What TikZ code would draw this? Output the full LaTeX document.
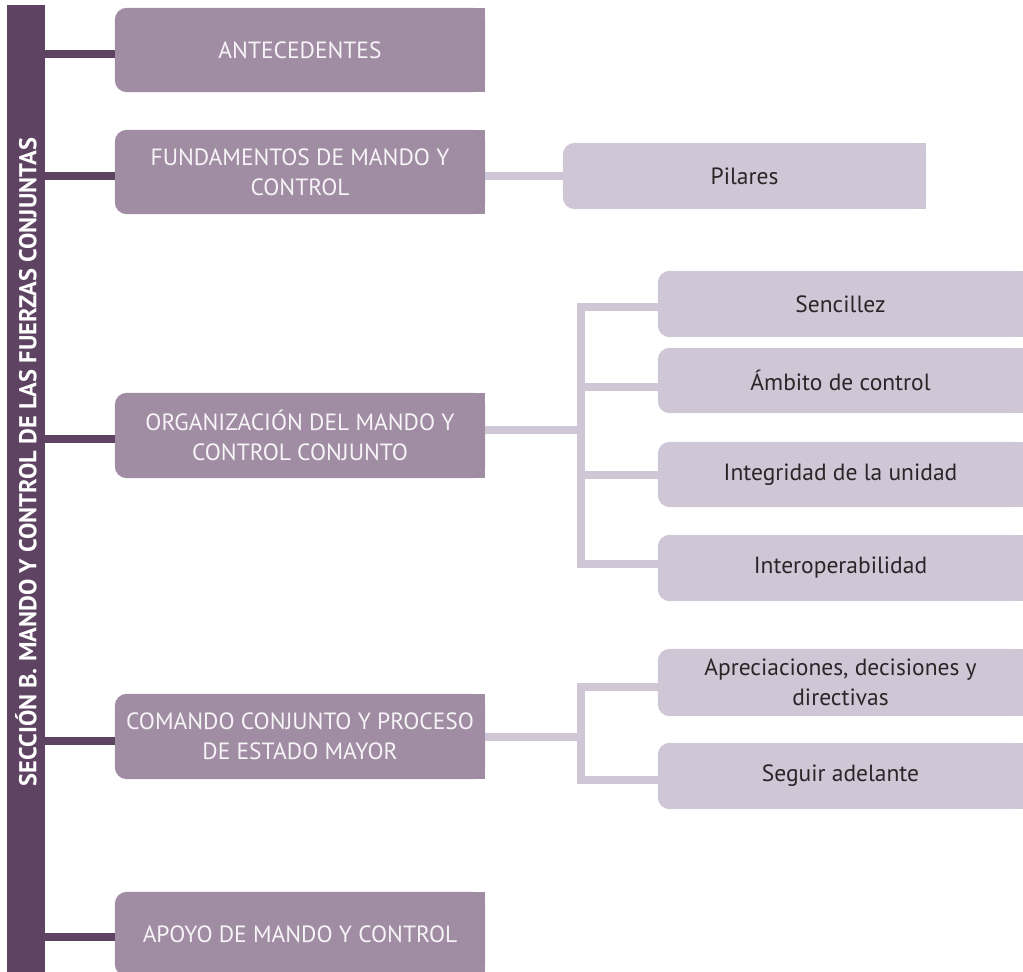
\documentclass[tikz,border=0pt]{standalone}
\usepackage{fontspec}
\setmainfont{PT Sans}
\usetikzlibrary{backgrounds,calc}
\definecolor{barc}{HTML}{5E4462}
\definecolor{mainc}{HTML}{A08DA3}
\definecolor{subc}{HTML}{CFC7D5}
\definecolor{maintext}{HTML}{F7F4F7}
\definecolor{subtext}{HTML}{2A2628}
\newcommand\boxbg[2]{\fill[#2,rounded corners=12pt] (#1.north west) rectangle (#1.south east); \fill[#2] (#1.north) rectangle (#1.south east);}
\begin{document}
\begin{tikzpicture}[x=1pt,y=-1pt,
  mainbox/.style={minimum width=370pt, minimum height=84pt, inner sep=0pt, align=center, text=maintext, font=\fontsize{23.5}{30}\selectfont},
  subbox/.style={minimum width=365pt, minimum height=66pt, inner sep=0pt, align=center, text=subtext, font=\fontsize{23.5}{30}\selectfont},
  darkline/.style={draw=barc, line width=8pt},
  lightline/.style={draw=subc, line width=8pt}]
\useasboundingbox (0,0) rectangle (1023,972);
\clip (0,0) rectangle (1023,972);
% sidebar
\node[fill=barc, minimum width=38pt, minimum height=970pt, inner sep=0pt] (bar) at (26,490) {};
\node[rotate=90, text=white, font=\bfseries\fontsize{24.4}{28}\selectfont] (title) at (26,462) {SECCIÓN B. MANDO Y CONTROL DE LAS FUERZAS CONJUNTAS};
% main boxes
\node[mainbox] (ant) at (300,50) {ANTECEDENTES};
\node[mainbox] (fun) at (300,172) {FUNDAMENTOS DE MANDO Y\\CONTROL};
\node[mainbox, minimum height=85pt] (org) at (300,435.5) {ORGANIZACIÓN DEL MANDO Y\\CONTROL CONJUNTO};
\node[mainbox, minimum height=85pt] (com) at (300,736.5) {COMANDO CONJUNTO Y PROCESO\\DE ESTADO MAYOR};
\node[mainbox] (apo) at (300,934) {APOYO DE MANDO Y CONTROL};
% sub boxes
\node[subbox, minimum width=363pt] (pil) at (744.5,176) {Pilares};
\node[subbox] (sen) at (840.5,304) {Sencillez};
\node[subbox, minimum height=65pt] (amb) at (840.5,380.5) {Ámbito de control};
\node[subbox, minimum height=65pt] (int) at (840.5,474.5) {Integridad de la unidad};
\node[subbox] (inter) at (840.5,568) {Interoperabilidad};
\node[subbox, minimum height=67pt] (apr) at (840.5,682.5) {Apreciaciones, decisiones y\\directivas};
\node[subbox] (seg) at (840.5,776) {Seguir adelante};
\coordinate (ob) at (581,430);
\coordinate (cb) at (581,737);
\begin{scope}[on background layer]
\boxbg{ant}{mainc}
\boxbg{fun}{mainc}
\boxbg{org}{mainc}
\boxbg{com}{mainc}
\boxbg{apo}{mainc}
\boxbg{pil}{subc}
\boxbg{sen}{subc}
\boxbg{amb}{subc}
\boxbg{int}{subc}
\boxbg{inter}{subc}
\boxbg{apr}{subc}
\boxbg{seg}{subc}
% dark connectors
\draw[darkline] ([yshift=-4pt]bar.east |- ant.west) -- ([yshift=-4pt]ant.west);
\draw[darkline] ([yshift=-4pt]bar.east |- fun.west) -- ([yshift=-4pt]fun.west);
\draw[darkline] ([yshift=-3.5pt]bar.east |- org.west) -- ([yshift=-3.5pt]org.west);
\draw[darkline] ([yshift=-4.5pt]bar.east |- com.west) -- ([yshift=-4.5pt]com.west);
\draw[darkline] ([yshift=-3pt]bar.east |- apo.west) -- ([yshift=-3pt]apo.west);
% light connectors
\draw[lightline] (fun.east |- pil.west) -- (pil.west);
\draw[lightline] (org.east |- ob) -- (ob);
\draw[lightline] ([yshift=-3pt]sen.west) -| (ob) |- ([yshift=4pt]inter.west);
\draw[lightline] ([yshift=-6.5pt]amb.west) -- ([yshift=-6.5pt]amb.west -| ob);
\draw[lightline] (int.west) -- (int.west -| ob);
\draw[lightline] (com.east |- cb) -- (cb);
\draw[lightline] ([yshift=-4.5pt]apr.west) -| (cb) |- ([yshift=-4pt]seg.west);
\end{scope}
\end{tikzpicture}
\end{document}
